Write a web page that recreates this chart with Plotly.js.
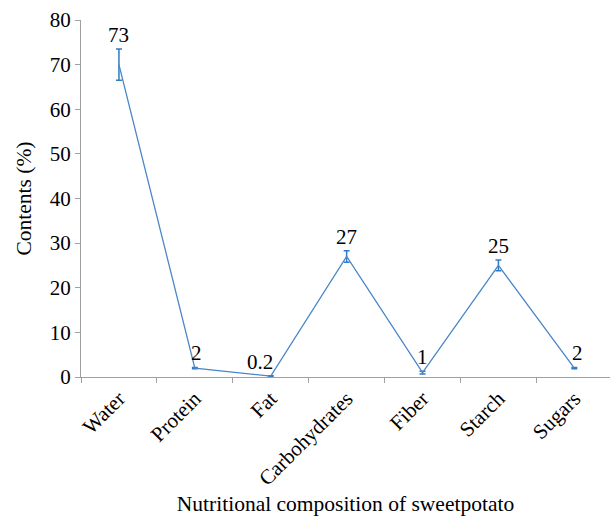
<!DOCTYPE html>
<html>
<head>
<meta charset="utf-8">
<script src="https://cdn.plot.ly/plotly-3.0.1.min.js"></script>
<style>html,body{margin:0;padding:0;background:#fff;}#chart{width:610px;height:516px;}</style>
</head>
<body>
<div id="chart"></div>
<script>
var categories = ["Water", "Protein", "Fat", "Carbohydrates", "Fiber", "Starch", "Sugars"];
var values = [70, 2, 0.2, 27, 1, 25, 2];
var errors = [3.5, 0.15, 0.1, 1.3, 0.3, 1.2, 0.15];
var labels = ["73", "2", "0.2", "27", "1", "25", "2"];
var labelShiftX = [0, 2, -11, 0, 0, 0, 3];

var lineColor = "#4a86c8";
var fontFam = "Liberation Serif, Times New Roman, serif";

var trace = {
  x: categories,
  y: values,
  type: "scatter",
  mode: "lines",
  line: {color: lineColor, width: 1.3},
  error_y: {type: "data", array: errors, visible: true, color: "#2f7cc4", thickness: 1.5, width: 3},
  hoverinfo: "skip"
};

var annotations = categories.map(function(c, i) {
  return {
    x: c, y: values[i] + errors[i], xref: "x", yref: "y",
    text: labels[i], showarrow: false, yanchor: "bottom", xshift: labelShiftX[i], yshift: 0,
    font: {family: fontFam, size: 21, color: "#000"}
  };
});

var layout = {
  width: 610, height: 516,
  margin: {l: 81, r: 0, t: 20, b: 139},
  paper_bgcolor: "#fff", plot_bgcolor: "#fff",
  showlegend: false,
  font: {family: fontFam, color: "#000", size: 21},
  xaxis: {
    type: "category",
    range: [-0.5, 6.47],
    showgrid: false, zeroline: false,
    showline: true, linecolor: "#a0a0a0", linewidth: 1,
    ticks: "outside", tickson: "boundaries", ticklen: 5, tickcolor: "#a0a0a0",
    tickangle: -45,
    tickfont: {family: fontFam, size: 21, color: "#000"},
    title: {text: "Nutritional composition of sweetpotato", font: {family: fontFam, size: 21.5, color: "#000"}, standoff: 14}
  },
  yaxis: {
    range: [0, 80], dtick: 10,
    showgrid: false, zeroline: false,
    showline: true, linecolor: "#a0a0a0", linewidth: 1,
    ticks: "outside", ticklen: 5, tickcolor: "#a0a0a0",
    tickfont: {family: fontFam, size: 21, color: "#000"},
    title: {text: "Contents (%)", font: {family: fontFam, size: 21.5, color: "#000"}, standoff: 12}
  },
  annotations: annotations
};

Plotly.newPlot("chart", [trace], layout, {displayModeBar: false, staticPlot: true});
</script>
</body>
</html>
